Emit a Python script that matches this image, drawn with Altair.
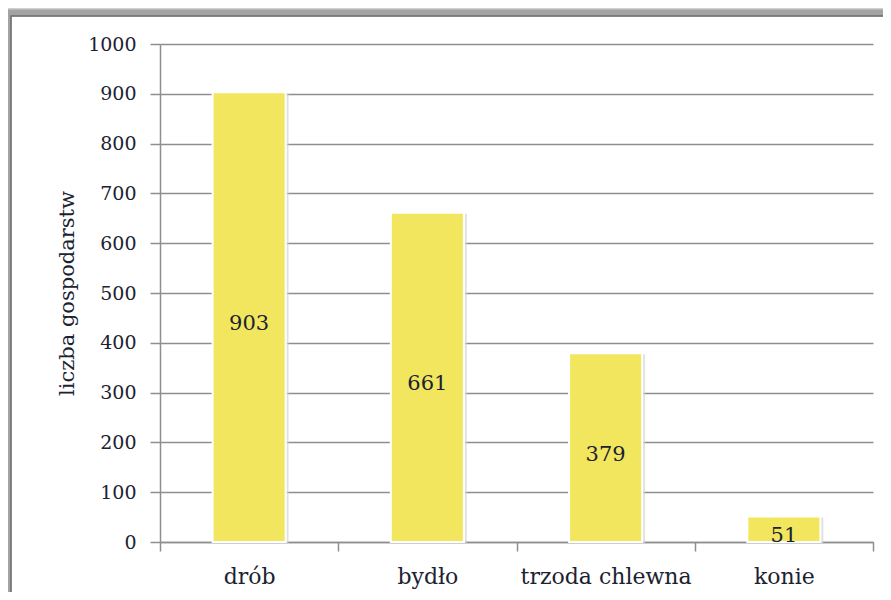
import altair as alt
import pandas as pd

categories = ["drób", "bydło", "trzoda chlewna", "konie"]
values = [903, 661, 379, 51]
y_ticks = [0, 100, 200, 300, 400, 500, 600, 700, 800, 900, 1000]
y_title = "liczba gospodarstw"

FONT = "DejaVu Serif"
TXT = "#1b2230"
GRID = "#8e8e8e"

df = pd.DataFrame({"kat": categories, "val": values})
df["mid"] = df["val"] / 2

x_enc = alt.X(
    "kat:N", sort=categories, title=None,
    scale=alt.Scale(paddingInner=0, paddingOuter=0),
    axis=alt.Axis(tickBand="extent", labelAngle=0, labelFont=FONT, labelFontSize=22,
                  labelColor=TXT, domainColor=GRID, domainWidth=1.5, tickColor=GRID,
                  tickWidth=1.5, tickSize=9, labelPadding=15, grid=False),
)
y_enc = alt.Y(
    "val:Q", scale=alt.Scale(domain=[0, 1000]),
    axis=alt.Axis(values=y_ticks, format="d", title=y_title, titleFont=FONT, titleFontSize=21,
                  titleFontWeight="normal", titleColor=TXT, titlePadding=10,
                  labelFont=FONT, labelFontSize=19, labelColor=TXT, labelPadding=14,
                  domainColor=GRID, domainWidth=1.5, tickColor=GRID, tickWidth=1.5,
                  tickSize=10, gridColor=GRID, gridWidth=1.5),
)

base = alt.Chart(df)

frame_data = pd.DataFrame({"a": [0]})
frame_outer = alt.Chart(frame_data).mark_rect(fillOpacity=0, stroke="#cfcfcf", strokeWidth=12).encode(
    x=alt.value(-155), x2=alt.value(900), y=alt.value(-34), y2=alt.value(700))
frame_mid = alt.Chart(frame_data).mark_rect(fillOpacity=0, stroke="#a3a3a3", strokeWidth=7).encode(
    x=alt.value(-152), x2=alt.value(900), y=alt.value(-31), y2=alt.value(700))
frame_inner = alt.Chart(frame_data).mark_rect(fillOpacity=0, stroke="#6e6e6e", strokeWidth=1.5).encode(
    x=alt.value(-149), x2=alt.value(900), y=alt.value(-28), y2=alt.value(700))

shadow = base.mark_bar(color="#d4d4d4", opacity=0.7, xOffset=2, yOffset=1,
                       width=alt.RelativeBandSize(0.42)).encode(x=x_enc, y=y_enc)
bars = base.mark_bar(color="#F2E65E", stroke="white", strokeWidth=2,
                     width=alt.RelativeBandSize(0.41)).encode(x=x_enc, y=y_enc)
labels = base.mark_text(font=FONT, fontSize=21, color=TXT, baseline="middle", dy=7).encode(
    x=alt.X("kat:N", sort=categories), y=alt.Y("mid:Q"), text=alt.Text("val:Q"))

chart = alt.layer(frame_outer, frame_mid, frame_inner, shadow, bars, labels).properties(
    width=713, height=498,
    autosize=alt.AutoSizeParams(type="none"),
    padding={"left": 152, "top": 36, "right": 10, "bottom": 50},
).configure_view(stroke=None)

chart.save("out.html", embed_options={"renderer": "svg", "actions": False})
